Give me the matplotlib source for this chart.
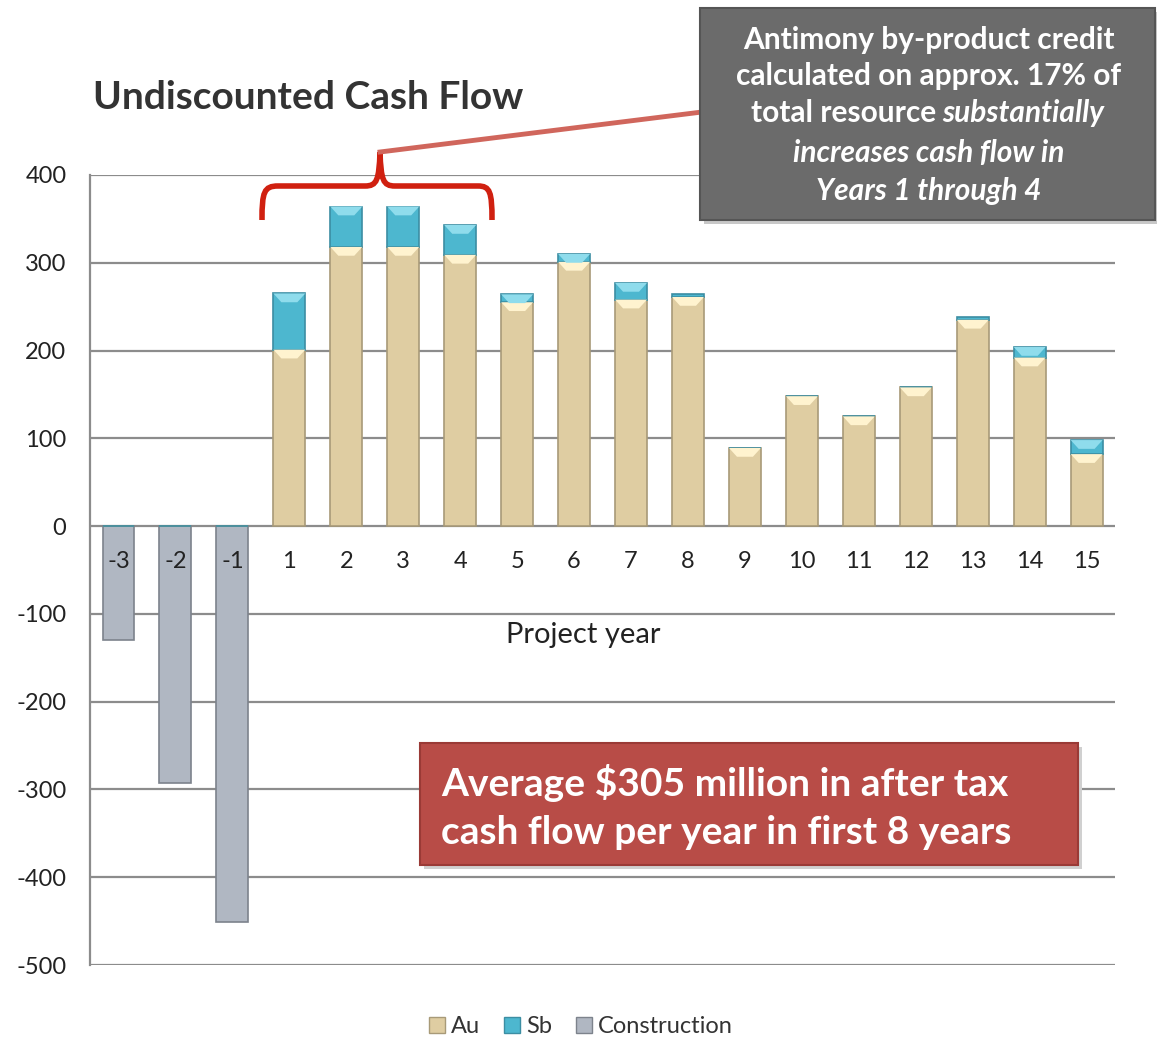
import matplotlib
matplotlib.use("Agg")
import matplotlib.pyplot as plt
from matplotlib.patches import Rectangle, PathPatch
from matplotlib.lines import Line2D
from matplotlib.path import Path

plt.rcParams["font.family"] = ["Lato", "DejaVu Sans"]
plt.rcParams["axes.unicode_minus"] = False

# данные
years = ["-3", "-2", "-1", "1", "2", "3", "4", "5", "6", "7", "8",
         "9", "10", "11", "12", "13", "14", "15"]
construction = [-130, -293, -451] + [0] * 15
au = [0, 0, 0, 201, 318, 318, 309, 255, 301, 258, 261, 89, 148, 125, 158, 235, 192, 82]
sb = [0, 0, 0, 64, 46, 46, 34, 9, 9, 19, 3, 0, 0, 0, 0, 3, 12, 16]

AU_C = "#dfcda2"
SB_C = "#4db7cf"
CON_C = "#b0b7c2"
GRID_C = "#8c8c8c"

fig = plt.figure(figsize=(11.57, 10.39), dpi=100)
ax = fig.add_axes([0.0778, 0.0712, 0.886, 0.7604])

x = list(range(len(years)))
w = 0.56
ax.bar(x, construction, w, color=CON_C, edgecolor="#7d838c", linewidth=1.2, zorder=3)
ax.bar(x, au, w, color=AU_C, edgecolor="#a89a78", linewidth=1.2, zorder=3)
ax.bar(x, sb, w, bottom=au, color=SB_C, edgecolor="#3c8ea3", linewidth=1.2, zorder=3)

# светлая фаска сверху у столбиков
for i in x:
    for bot, h, c in ((0, au[i], "#fff3cf"), (au[i], sb[i], "#8fdcec")):
        if h > 6:
            ax.fill([i - w / 2, i + w / 2, i + w / 2 - 0.14, i - w / 2 + 0.14],
                    [bot + h, bot + h, bot + h - 10, bot + h - 10],
                    color=c, lw=0, zorder=4)

ax.set_ylim(-500, 400)
ax.set_xlim(-0.5, len(years) - 0.5)
ax.set_yticks(range(-500, 401, 100))
ax.yaxis.grid(True, color=GRID_C, linewidth=1.6, zorder=0)
ax.set_xticks([])
for s in ("top", "right", "bottom"):
    ax.spines[s].set_visible(False)
ax.spines["left"].set_color(GRID_C)
ax.spines["left"].set_linewidth(1.6)
ax.tick_params(axis="y", length=0, labelsize=17, colors="#222222", pad=17)

for i, lab in enumerate(years):
    ax.text(i, -40, lab, ha="center", va="center", fontsize=17, color="#222222", zorder=5)

fig.text(0.504, 0.389, "Project year", ha="center", va="center", fontsize=21, color="#222222")
fig.text(0.080, 0.906, "Undiscounted Cash Flow", ha="left", va="center",
         fontsize=28, weight="bold", color="#333333")

# легенда
handles = [Rectangle((0, 0), 1, 1, fc=c, ec=e) for c, e in
           ((AU_C, "#a89a78"), (SB_C, "#3c8ea3"), (CON_C, "#7d838c"))]
fig.legend(handles, ["Au", "Sb", "Construction"], loc="center", bbox_to_anchor=(0.502, 0.012),
           ncol=3, frameon=False, fontsize=17, handlelength=0.7, handleheight=0.7,
           handletextpad=0.25, columnspacing=1.0, labelcolor="#333333")

W, H = 1157, 1039


def fx(px):
    return px / W


def fy(py):
    return 1 - py / H


# красная фигурная скобка
verts = [(262, 220), (262, 192), (264, 186), (278, 186),
         (365, 186), (377, 186), (379, 180), (380, 152),
         (381, 180), (383, 186), (395, 186),
         (478, 186), (490, 186), (492, 192), (492, 220)]
codes = [Path.MOVETO, Path.CURVE4, Path.CURVE4, Path.CURVE4,
         Path.LINETO, Path.CURVE4, Path.CURVE4, Path.CURVE4,
         Path.CURVE4, Path.CURVE4, Path.CURVE4,
         Path.LINETO, Path.CURVE4, Path.CURVE4, Path.CURVE4]
brace = Path([(fx(a), fy(b)) for a, b in verts], codes)
fig.add_artist(PathPatch(brace, fc="none", ec="#d02010", lw=4, transform=fig.transFigure, zorder=6))
fig.add_artist(Line2D([fx(380), fx(702)], [fy(152), fy(112)], color="#d0665c", lw=3.5,
                      transform=fig.transFigure, zorder=6))

# серая плашка
fig.add_artist(Rectangle((fx(704), fy(224)), fx(455), 212 / H, transform=fig.transFigure,
                         fc="#c8c8c8", ec="none", zorder=6))
fig.add_artist(Rectangle((fx(700), fy(220)), fx(455), 212 / H, transform=fig.transFigure,
                         fc="#6b6b6b", ec="#555555", lw=1.5, zorder=7))
kw = dict(color="white", fontsize=21.5, weight="bold", va="center", zorder=8)
fig.text(fx(929), fy(40), "Antimony by-product credit", ha="center", **kw)
fig.text(fx(929), fy(76), "calculated on approx. 17% of", ha="center", **kw)
fig.text(fx(936), fy(113), "total resource", ha="right", **kw)
fig.text(fx(942), fy(113), "substantially", ha="left", style="italic", **kw)
fig.text(fx(929), fy(153), "increases cash flow in", ha="center", style="italic", **kw)
fig.text(fx(929), fy(191), "Years 1 through 4", ha="center", style="italic", **kw)

# красная плашка
fig.add_artist(Rectangle((fx(424), fy(869)), fx(658), 122 / H, transform=fig.transFigure,
                         fc="#d0d0d0", ec="none", zorder=6))
fig.add_artist(Rectangle((fx(420), fy(865)), fx(658), 122 / H, transform=fig.transFigure,
                         fc="#b84c47", ec="#9a3a36", lw=1.5, zorder=7))
kw2 = dict(color="white", fontsize=28, weight="bold", va="center", ha="left", zorder=8)
fig.text(fx(441), fy(783), "Average $305 million in after tax", **kw2)
fig.text(fx(441), fy(832), "cash flow per year in first 8 years", **kw2)

fig.savefig("out.png", dpi=100)
